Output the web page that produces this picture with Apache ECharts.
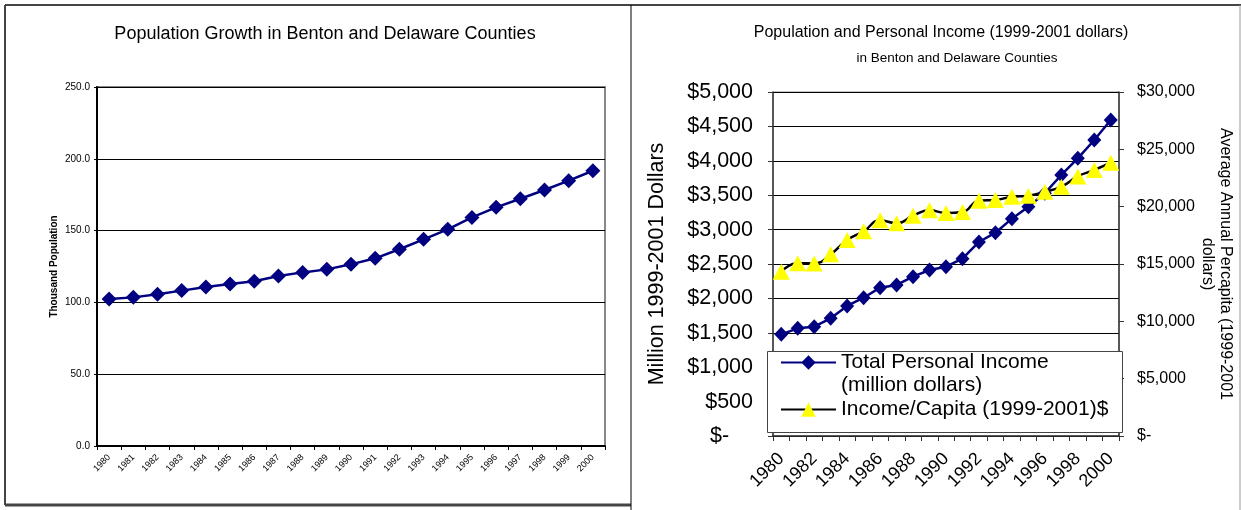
<!DOCTYPE html>
<html>
<head>
<meta charset="utf-8">
<title>Population and Personal Income</title>
<script src="https://cdn.jsdelivr.net/npm/echarts@6/dist/echarts.min.js"></script>
<style>
  html, body { margin: 0; padding: 0; background: #fff; }
  #chart { width: 1241px; height: 510px; }
</style>
</head>
<body>
<div id="chart"></div>
<script>
  const years = ["1980", "1981", "1982", "1983", "1984", "1985", "1986", "1987", "1988", "1989", "1990",
    "1991", "1992", "1993", "1994", "1995", "1996", "1997", "1998", "1999", "2000"];
  // thousand population
  const population = [102.4, 103.5, 105.6, 108.2, 110.7, 112.8, 114.7, 118.4, 120.9, 123.0, 126.5,
    130.7, 137.0, 143.9, 150.9, 159.2, 166.2, 172.2, 178.3, 184.8, 191.7];
  // million dollars
  const totalIncome = [1478, 1565, 1589, 1710, 1890, 2010, 2156, 2195, 2316, 2413, 2461,
    2578, 2820, 2955, 3159, 3333, 3530, 3794, 4036, 4302, 4593];
  // dollars per capita
  const incomePerCapita = [14330, 15060, 15050, 15840, 17090, 17850, 18810, 18550, 19210, 19680, 19450,
    19530, 20520, 20580, 20870, 20960, 21300, 21740, 22640, 23200, 23840];
  const popTicks = [0, 250, 50];
  const incomeTicks = [0, 5000, 500];
  const capitaTicks = [0, 30000, 5000];

  const font = "'Liberation Sans', Arial, sans-serif";
  const navy = "#000080";

  function dollars(v) {
    return v === 0 ? "$-    " : "$" + v.toLocaleString("en-US");
  }

  const chart = echarts.init(document.getElementById("chart"));
  chart.setOption({
    animation: false,
    textStyle: { fontFamily: font, color: "#000" },
    title: [
      {
        text: "Population Growth in Benton and Delaware Counties",
        left: 320, top: 20, textAlign: "center",
        textStyle: { fontSize: 18, fontWeight: "normal", color: "#000", fontFamily: font }
      },
      {
        text: "Population and Personal Income (1999-2001 dollars)",
        left: 936, top: 20, textAlign: "center",
        textStyle: { fontSize: 16, fontWeight: "normal", color: "#000", fontFamily: font }
      },
      {
        text: "in Benton and Delaware Counties",
        left: 952, top: 46, textAlign: "center",
        textStyle: { fontSize: 13.5, fontWeight: "normal", color: "#000", fontFamily: font }
      }
    ],
    legend: {
      orient: "vertical",
      left: 780, top: 328,
      padding: 0,
      itemWidth: 55, itemHeight: 18, itemGap: 1,
      z: 6,
      textStyle: { fontSize: 21, lineHeight: 23, color: "#000", fontFamily: font },
      data: ["Total Personal Income", "Income/Capita (1999-2001)$"],
      formatter: function (name) {
        // blank first line keeps the marker level with the first text line
        return name === "Total Personal Income" ? "\nTotal Personal Income\n(million dollars)" : name;
      }
    },
    graphic: [
      // panel frames
      { type: "line", shape: { x1: 5, y1: 5, x2: 1241, y2: 5 }, style: { stroke: "#444", lineWidth: 2 } },
      { type: "line", shape: { x1: 5, y1: 5, x2: 5, y2: 505 }, style: { stroke: "#444", lineWidth: 2 } },
      { type: "line", shape: { x1: 5, y1: 505, x2: 631, y2: 505 }, style: { stroke: "#444", lineWidth: 3 } },
      { type: "line", shape: { x1: 631, y1: 5, x2: 631, y2: 510 }, style: { stroke: "#000", lineWidth: 1 } },
      { type: "line", shape: { x1: 1240, y1: 5, x2: 1240, y2: 510 }, style: { stroke: "#999", lineWidth: 1 } },
      // legend box
      {
        type: "rect", z: 5,
        shape: { x: 767.5, y: 351.5, width: 355, height: 81 },
        style: { fill: "#fff", stroke: "#444", lineWidth: 1 }
      }
    ],
    grid: [
      { left: 97, top: 87, width: 508, height: 359, show: true, borderColor: "#888", borderWidth: 2 },
      { left: 773, top: 92, width: 346, height: 344, show: true, borderColor: "#888", borderWidth: 1 }
    ],
    xAxis: [
      {
        type: "category", gridIndex: 0, data: years, boundaryGap: true,
        axisLine: { lineStyle: { color: "#000", width: 2 } },
        axisTick: { show: true, interval: 0, length: 4, lineStyle: { color: "#000" } },
        axisLabel: { interval: 0, rotate: 45, fontSize: 9, margin: 10, color: "#000", fontFamily: font }
      },
      {
        type: "category", gridIndex: 1, data: years, boundaryGap: true,
        axisLine: { lineStyle: { color: "#333", width: 1.5 } },
        axisTick: { show: true, interval: 0, length: 5, lineStyle: { color: "#333" } },
        axisLabel: { interval: 1, rotate: 45, fontSize: 18, margin: 20, color: "#000", fontFamily: font }
      }
    ],
    yAxis: [
      {
        type: "value", gridIndex: 0,
        min: popTicks[0], max: popTicks[1], interval: popTicks[2],
        name: "Thousand Population", nameLocation: "middle", nameGap: 38,
        nameTextStyle: { fontSize: 10, fontWeight: "bold", color: "#000", fontFamily: font },
        axisLine: { show: true, lineStyle: { color: "#000", width: 2 } },
        axisTick: { show: true, length: 3, lineStyle: { color: "#000" } },
        axisLabel: { fontSize: 10, margin: 7, color: "#000", fontFamily: font, formatter: v => v.toFixed(1) },
        splitLine: { lineStyle: { color: "#000", width: 1 } }
      },
      {
        type: "value", gridIndex: 1,
        min: incomeTicks[0], max: incomeTicks[1], interval: incomeTicks[2],
        name: "Million 1999-2001 Dollars", nameLocation: "middle", nameGap: 105,
        nameTextStyle: { fontSize: 21.5, color: "#000", fontFamily: font },
        axisLine: { show: true, lineStyle: { color: "#333", width: 1.5 } },
        axisTick: { show: true, length: 5, lineStyle: { color: "#333" } },
        axisLabel: { fontSize: 21.5, margin: 20, color: "#000", fontFamily: font, formatter: dollars },
        splitLine: { lineStyle: { color: "#000", width: 1 } }
      },
      {
        type: "value", gridIndex: 1, position: "right",
        min: capitaTicks[0], max: capitaTicks[1], interval: capitaTicks[2],
        name: "Average Annual Percapita (1999-2001\ndollars)", nameLocation: "middle",
        nameRotate: -90, nameGap: 76,
        nameTextStyle: { fontSize: 16, lineHeight: 18, color: "#000", fontFamily: font },
        axisLine: { show: true, lineStyle: { color: "#333", width: 1.5 } },
        axisTick: { show: true, length: 5, lineStyle: { color: "#333" } },
        axisLabel: { fontSize: 16, margin: 18, color: "#000", fontFamily: font, formatter: dollars },
        splitLine: { show: false }
      }
    ],
    series: [
      {
        name: "Population", type: "line", xAxisIndex: 0, yAxisIndex: 0,
        data: population, showAllSymbol: true,
        symbol: "diamond", symbolSize: [15, 15],
        lineStyle: { color: navy, width: 2.5 },
        itemStyle: { color: navy }
      },
      {
        name: "Total Personal Income", type: "line", xAxisIndex: 1, yAxisIndex: 1,
        data: totalIncome, showAllSymbol: true,
        symbol: "diamond", symbolSize: [14, 15],
        lineStyle: { color: navy, width: 2.5 },
        itemStyle: { color: navy }
      },
      {
        name: "Income/Capita (1999-2001)$", type: "line", xAxisIndex: 1, yAxisIndex: 2,
        data: incomePerCapita, smooth: true, showAllSymbol: true,
        symbol: "triangle", symbolSize: [17, 16],
        lineStyle: { color: "#000", width: 2.5 },
        itemStyle: { color: "#FFFF00" }
      }
    ]
  });
</script>
</body>
</html>
